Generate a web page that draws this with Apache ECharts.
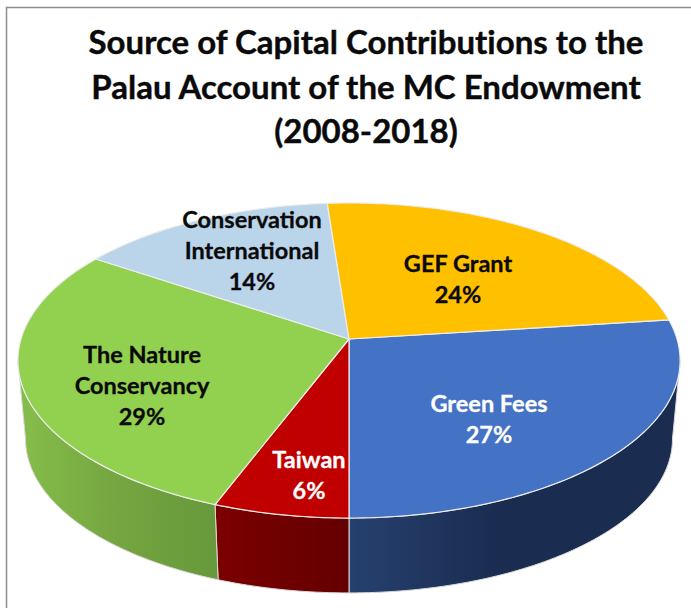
<!DOCTYPE html>
<html>
<head>
<meta charset="utf-8">
<style>
html, body { margin: 0; padding: 0; background: #fff; }
#chart { width: 691px; height: 608px; }
#chart text { font-variant-ligatures: none; }
</style>
<script src="https://cdn.jsdelivr.net/npm/echarts@6/dist/echarts.min.js"></script>
</head>
<body>
<div id="chart"></div>
<script>
const categories = ['Green Fees', 'Taiwan', 'The Nature\nConservancy', 'Conservation\nInternational', 'GEF Grant'];
const shares = [27, 5.8, 28.6, 14.4, 24.2];

const topColors = ['#4472C4', '#C00000', '#92D050', '#BAD4EA', '#FFC000'];
const sideColors = [
    ['#26416F', '#1A2C50', '#1A2C50'],
    ['#7C0000', '#700000', '#640000'],
    ['#86BE4A', '#76A741', '#67983A'],
    ['#7FA0BC', '#779AB4', '#6F90AC'],
    ['#B38600', '#A98000', '#A07800']
];
const labelColors = ['#fff', '#fff', '#0a0a0a', '#0a0a0a', '#0a0a0a'];
const labelSpots = [[489, 418], [309, 474], [142, 385], [252, 250], [458, 278]];

// perspective of the pie: tilted disc, apex is above the middle of the ellipse
const apexX = 349, apexY = 339;
const radiusX = 328, radiusY = 154.6, tilt = -0.1365;
const wallDrop = 79, wallScale = 0.977;
const startDeg = -7.2;
// where the rim is widest, the wall edge runs straight down from here
const wallEdgeDeg = Math.asin(-tilt) * 180 / Math.PI;

function rimPoint(deg, lower) {
    const a = deg * Math.PI / 180;
    const w = 1 + tilt * Math.sin(a);
    const scale = lower ? wallScale : 1;
    return [
        apexX + scale * radiusX * Math.cos(a) / w,
        apexY + (lower ? wallDrop : 0) + scale * radiusY * Math.sin(a) / w
    ];
}

function arcPoints(from, to, lower) {
    const pts = [];
    const n = Math.max(2, Math.ceil(Math.abs(to - from)));
    for (let i = 0; i <= n; i++) {
        pts.push(rimPoint(from + (to - from) * i / n, lower));
    }
    return pts;
}

const total = shares.reduce((a, b) => a + b, 0);

function renderSlice(params, api) {
    const i = params.dataIndex;
    let from = startDeg;
    for (let k = 0; k < i; k++) from += shares[k] / total * 360;
    const to = from + api.value(0) / total * 360;

    const children = [];
    // side wall, only the part facing us
    const wallFrom = Math.max(from, wallEdgeDeg), wallTo = Math.min(to, 180 - wallEdgeDeg);
    if (wallTo > wallFrom) {
        const upper = arcPoints(wallFrom, wallTo, false);
        const lower = arcPoints(wallTo, wallFrom, true);
        children.push({
            type: 'polygon',
            z2: 1,
            shape: { points: upper.concat(lower) },
            style: {
                fill: new echarts.graphic.LinearGradient(0, 0, 1, 0, [
                    { offset: 0, color: sideColors[i][0] },
                    { offset: 0.45, color: sideColors[i][1] },
                    { offset: 1, color: sideColors[i][2] }
                ]),
                stroke: '#D9D9D9',
                lineWidth: 1
            }
        });
    }
    children.push({
        type: 'polygon',
        z2: 2,
        shape: { points: [[apexX, apexY]].concat(arcPoints(from, to, false)) },
        style: { fill: topColors[i], stroke: '#EDEDED', lineWidth: 1.2, lineJoin: 'round' }
    });
    children.push({
        type: 'text',
        z2: 3,
        style: {
            x: labelSpots[i][0],
            y: labelSpots[i][1],
            text: categories[i] + '\n' + Math.round(api.value(0)) + '%',
            fill: labelColors[i],
            stroke: labelColors[i],
            lineWidth: 0.3,
            font: 'bold 23.5px Lato',
            lineHeight: 31,
            align: 'center',
            verticalAlign: 'middle'
        }
    });
    return { type: 'group', children: children };
}

const chart = echarts.init(document.getElementById('chart'), null, { renderer: 'svg' });

chart.setOption({
    animation: false,
    backgroundColor: '#fff',
    title: {
        text: 'Source of Capital Contributions to the\nPalau Account of the MC Endowment\n(2008-2018)',
        left: 361,
        top: 14,
        textAlign: 'center',
        textStyle: {
            fontFamily: 'Lato',
            fontWeight: 'bold',
            fontSize: 33,
            lineHeight: 44.5,
            color: '#0a0a0a',
            textBorderColor: '#0a0a0a',
            textBorderWidth: 0.4
        }
    },
    graphic: [{
        type: 'rect',
        z: -1,
        shape: { x: 6.5, y: 7.5, width: 800, height: 800 },
        style: { fill: 'none', stroke: '#8c8c8c', lineWidth: 1.5 }
    }],
    series: [{
        type: 'custom',
        coordinateSystem: 'none',
        renderItem: renderSlice,
        data: shares.map(function (v, i) { return { name: categories[i], value: [v] }; })
    }]
});
</script>
</body>
</html>
